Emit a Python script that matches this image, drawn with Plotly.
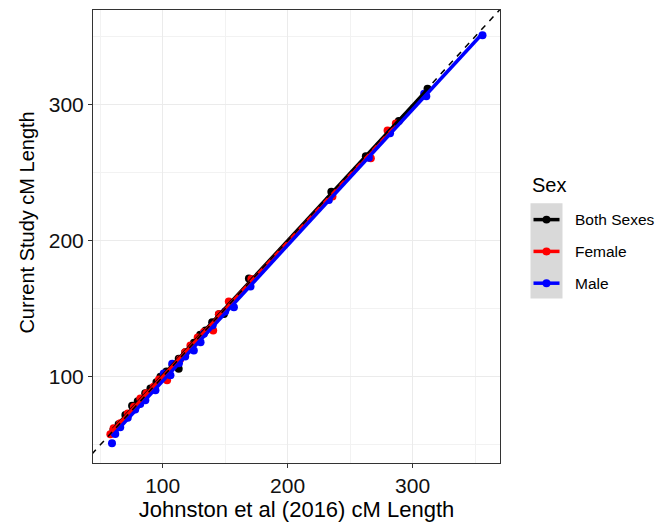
import numpy as np
import plotly.graph_objects as go

# ---- data ----
series_names = ["Both Sexes", "Female", "Male"]
series_colors = ["#000000", "#FF0000", "#0000FF"]

both_x = [60.5, 64.7, 70.1, 75.5, 80.0, 86.0, 90.2, 95.0, 98.2, 103.0, 108.0, 112.8, 112.8,
          118.0, 125.0, 130.0, 134.3, 139.6, 145.0, 149.0, 169.0, 235.0, 262.6, 281.0, 289.0, 312.0]
both_y = [61.0, 65.2, 72.0, 78.8, 82.0, 88.0, 91.4, 96.0, 100.0, 104.0, 109.0, 113.3, 106.0,
          118.0, 125.0, 131.0, 134.0, 140.1, 146.0, 146.2, 172.2, 236.0, 262.2, 280.0, 288.0, 311.7]

female_x = [58.1, 60.7, 66.0, 72.0, 77.0, 82.1, 87.0, 92.8, 97.0, 103.5, 108.0, 114.0,
            118.0, 122.2, 128.0, 133.0, 140.4, 145.0, 152.9, 171.0, 235.9, 266.6, 280.0, 286.6]
female_y = [57.9, 62.2, 66.0, 73.0, 78.0, 84.1, 88.0, 92.7, 98.0, 97.5, 108.0, 113.0,
            118.0, 123.0, 129.0, 133.0, 134.0, 146.0, 155.4, 172.0, 232.5, 260.6, 281.0, 286.1]

male_x = [59.4, 62.0, 66.0, 72.0, 78.0, 82.0, 86.1, 94.2, 100.8, 106.2, 107.6, 113.0, 118.0,
          124.9, 130.3, 133.0, 140.0, 150.0, 157.0, 170.3, 233.0, 265.0, 282.0, 309.3, 311.0, 356.0]
male_y = [51.3, 58.0, 63.0, 70.0, 76.0, 80.0, 82.9, 90.2, 102.4, 101.2, 109.7, 110.0, 115.0,
          119.4, 125.5, 131.6, 138.0, 148.0, 151.1, 166.4, 230.0, 261.0, 279.0, 308.0, 306.3, 351.0]

xs = [both_x, female_x, male_x]
ys = [both_y, female_y, male_y]

x_range = [44.2, 370.0]
y_range = [36.7, 369.6]
tick_vals = [100, 200, 300]
minor_vals = [50, 150, 250, 350]

FONT = "Liberation Sans, Arial, sans-serif"

fig = go.Figure()

# points
for name, col, x, y in zip(series_names, series_colors, xs, ys):
    fig.add_trace(go.Scatter(x=x, y=y, mode="markers", name=name, showlegend=False,
                             marker=dict(color=col, size=8, line=dict(width=0))))

# linear fits (geom_smooth lm)
for name, col, x, y in zip(series_names, series_colors, xs, ys):
    xa = np.array(x); ya = np.array(y)
    b, a = np.polyfit(xa, ya, 1)
    lx = np.array([xa.min(), xa.max()])
    fig.add_trace(go.Scatter(x=lx, y=a + b * lx, mode="lines", showlegend=False,
                             line=dict(color=col, width=3.5)))

# y = x reference line
ref = [min(x_range[0], y_range[0]), max(x_range[1], y_range[1])]
fig.add_trace(go.Scatter(x=ref, y=ref, mode="lines", showlegend=False,
                         line=dict(color="black", width=1.5, dash="6px,6px")))

# ---- manual ggplot-style legend ----
L, R, T, B = 93, 500, 9, 465
def px(xp):
    return (xp - L) / (R - L)
def py(yp):
    return (B - yp) / (B - T)

shapes = []
annotations = []
shapes.append(dict(type="rect", xref="paper", yref="paper", x0=px(530.5), x1=px(562.5),
                   y0=py(299.5), y1=py(203.5), fillcolor="#D9D9D9", line=dict(width=0), layer="below"))
annotations.append(dict(text="Sex", xref="paper", yref="paper", x=px(529.5), y=py(185),
                        xanchor="left", yanchor="middle", showarrow=False,
                        font=dict(family=FONT, size=20, color="black")))
for i, (name, col) in enumerate(zip(series_names, series_colors)):
    yy = 220 + 32 * i
    shapes.append(dict(type="line", xref="paper", yref="paper", x0=px(533.5), x1=px(559.5),
                       y0=py(yy), y1=py(yy), line=dict(color=col, width=3.5)))
    shapes.append(dict(type="circle", xref="paper", yref="paper", x0=px(542.5), x1=px(550.5),
                       y0=py(yy + 4), y1=py(yy - 4), fillcolor=col, line=dict(width=0)))
    annotations.append(dict(text=name, xref="paper", yref="paper", x=px(573), y=py(yy),
                            xanchor="left", yanchor="middle", showarrow=False,
                            font=dict(family=FONT, size=15.5, color="black")))

# y-axis title
annotations.append(dict(text="Current Study cM Length", xref="paper", yref="paper",
                        x=px(27), y=py(223), xanchor="center", yanchor="middle",
                        textangle=-90, showarrow=False,
                        font=dict(family=FONT, size=20, color="black")))

axis_common = dict(
    showgrid=True, gridcolor="#EBEBEB", gridwidth=1.1,
    zeroline=False, showline=True, linecolor="#333333", linewidth=1.1, mirror=True,
    ticks="outside", ticklen=4, tickwidth=1.1, tickcolor="#333333",
    tickfont=dict(family=FONT, size=21, color="#111111"),
    tickvals=tick_vals,
    minor=dict(tickvals=minor_vals, showgrid=True, gridcolor="#F2F2F2", gridwidth=0.6, ticks=""),
)

fig.update_layout(
    width=656, height=526,
    margin=dict(l=L, r=656 - R, t=T, b=526 - B),
    paper_bgcolor="white", plot_bgcolor="white",
    showlegend=False,
    shapes=shapes, annotations=annotations,
    xaxis=dict(range=x_range, title=dict(text="Johnston et al (2016) cM Length",
               font=dict(family=FONT, size=22, color="black"), standoff=4), **axis_common),
    yaxis=dict(range=y_range, **axis_common),
)

fig.write_html("out.html", config={"displayModeBar": False},
               post_script="document.body.style.margin='0';document.body.style.overflow='hidden';")
